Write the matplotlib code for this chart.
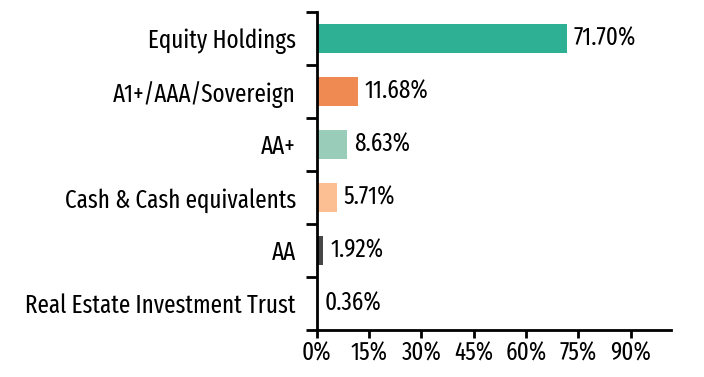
import matplotlib
matplotlib.use("Agg")
import matplotlib.pyplot as plt
from matplotlib.ticker import FixedLocator

categories = ["Equity Holdings", "A1+/AAA/Sovereign", "AA+", "Cash & Cash equivalents", "AA", "Real Estate Investment Trust"]
values = [71.70, 11.68, 8.63, 5.71, 1.92, 0.36]
colors = ["#2eb094", "#ee8a52", "#9acdb9", "#fcbf93", "#474747", "#aaaaaa"]
xticks = [0, 15, 30, 45, 60, 75, 90]
xtick_labels = ["0%", "15%", "30%", "45%", "60%", "75%", "90%"]

plt.rcParams['font.family'] = ['Fira Sans Extra Condensed', 'DejaVu Sans']
FS = 18
TW = "normal"
TC = "#000000"

fig = plt.figure(figsize=(7.04, 3.77), dpi=100)
ax = fig.add_axes([0.450, 0.125, 0.503, 0.843])

n = len(categories)
ypos = list(range(n))[::-1]
ax.barh(ypos, values, height=0.55, color=colors)
for y, v in zip(ypos, values):
    ax.annotate(f"{v:.2f}%", xy=(v, y), xytext=(5, 0), textcoords="offset points",
                va="center", ha="left", fontsize=FS, color=TC, weight=TW)

ax.set_xlim(0, 101.5)
ax.set_ylim(-0.5, n - 0.5)
ax.set_yticks(ypos)
ax.set_yticklabels(categories, fontsize=FS, color=TC, weight=TW)
ax.tick_params(axis="y", which="major", length=0, pad=15)
ax.yaxis.set_minor_locator(FixedLocator([i - 0.5 for i in range(n + 1)]))
ax.tick_params(axis="y", which="minor", length=8, width=2, direction="out")
ax.set_xticks(xticks)
ax.set_xticklabels(xtick_labels, fontsize=FS, color=TC, weight=TW)
ax.tick_params(axis="x", length=6, width=2, direction="out", pad=2)
for s in ["top", "right"]:
    ax.spines[s].set_visible(False)
ax.spines["left"].set_linewidth(2)
ax.spines["bottom"].set_linewidth(2)

fig.savefig("out.png", dpi=100)
